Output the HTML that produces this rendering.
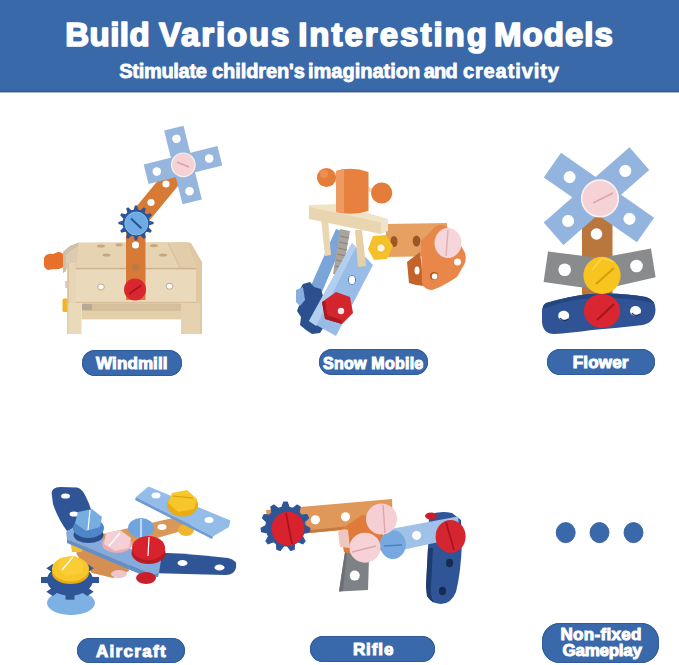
<!DOCTYPE html>
<html><head><meta charset="utf-8">
<style>
*{margin:0;padding:0;box-sizing:border-box}
html,body{width:679px;height:665px;overflow:hidden;background:#fff}
body{position:relative;font-family:"Liberation Sans",sans-serif}
#banner{position:absolute;left:0;top:0;width:679px;height:92px;background:linear-gradient(#3a69a9 0,#3a69a9 90px,#33609c 91px,#31598f 92px);box-shadow:0 1px 0 rgba(60,90,130,0.45)}
.t{position:absolute;color:#fff;font-weight:bold;white-space:nowrap}
.tt{top:15px;font-size:33px;line-height:40px;letter-spacing:0.2px;-webkit-text-stroke:1.7px #fff}
.st{top:60px;font-size:20px;line-height:22px;-webkit-text-stroke:0.8px #fff}
.pill{position:absolute;background:#3a69ab;box-shadow:inset 0 0 0 1px #2f5c98;color:#fff;font-weight:bold;border-radius:14px;text-align:center;white-space:nowrap;-webkit-text-stroke:1px #fff}
#toys{position:absolute;left:0;top:0}
</style></head><body>
<div id="banner"></div>
<svg style="position:absolute;left:0;top:0" width="679" height="92" viewBox="0 0 679 92">
<g font-family="Liberation Sans" font-weight="bold" fill="#fff" stroke="#fff" stroke-linejoin="round">
<text x="65.3" y="46.43" font-size="33" letter-spacing="0.45" stroke-width="1.7">Build</text>
<text x="159" y="46.43" font-size="33" letter-spacing="1.87" stroke-width="1.7">Various</text>
<text x="298.2" y="46.43" font-size="33" letter-spacing="2" stroke-width="1.7">Interesting</text>
<text x="494.1" y="46.43" font-size="33" letter-spacing="1" stroke-width="1.7">Models</text>
<text x="119.3" y="77.93" font-size="20" letter-spacing="-0.3" stroke-width="0.8">Stimulate</text>
<text x="212.1" y="77.93" font-size="20" letter-spacing="-0.1" stroke-width="0.8">children&#39;s</text>
<text x="308" y="77.93" font-size="20" letter-spacing="0" stroke-width="0.8">imagination</text>
<text x="423.8" y="77.93" font-size="20" letter-spacing="-0.8" stroke-width="0.8">and</text>
<text x="462.9" y="77.93" font-size="20" letter-spacing="0.9" stroke-width="0.8">creativity</text>
</g></svg>

<div class="pill" style="left:81.6px;top:350.2px;width:100px;height:25.4px;font-size:17px;line-height:28.6px;letter-spacing:0.1px;padding-left:0.5px">Windmill</div>
<div class="pill" style="left:319px;top:349px;width:108.5px;height:25.6px;font-size:16px;line-height:29.2px;letter-spacing:0.25px;padding-left:0px"><span style="margin:0 -10px">Snow Mobile</span></div>
<div class="pill" style="left:546.9px;top:349px;width:108.6px;height:25.6px;font-size:17px;line-height:28.6px;letter-spacing:0.2px;padding-right:1px">Flower</div>
<div class="pill" style="left:77.1px;top:637.7px;width:108.2px;height:25.6px;font-size:17px;line-height:28.4px;letter-spacing:1.3px;padding-left:0.5px">Aircraft</div>
<div class="pill" style="left:310.2px;top:636px;width:125.3px;height:26px;font-size:17px;line-height:28.6px;letter-spacing:0.9px;padding-left:1.5px">Rifle</div>
<div class="pill" style="left:542.1px;top:622.5px;width:117px;height:40.2px;font-size:17px;line-height:16.5px;padding-top:4px;border-radius:18px;letter-spacing:0.3px;padding-left:1px">Non-fixed<br><span style="letter-spacing:-0.25px;position:relative;left:1px">Gameplay</span></div>

<svg id="toys" width="679" height="665" viewBox="0 0 679 665">

<!-- WINDMILL -->
<g id="windmill">
 <!-- left connectors -->
 <path d="M44,258 Q46,253 53,254 L58,252 Q63,252 64,256 L64,266 Q60,270 54,269 L48,270 Q43,268 44,262 Z" fill="#e8702c"/>
 <rect x="62.5" y="298.6" width="6" height="13.3" rx="1.5" fill="#f0b52a"/>
 <rect x="65" y="281" width="3" height="7" fill="#e9c8c8"/>
 <!-- wood box -->
 <polygon points="79,242.4 186,242 196,268.5 74,268.5" fill="#e6d3b2"/>
 <polygon points="168,243 186,242 196,268.5 180,268.5" fill="#e2cdaa"/>
 <line x1="168" y1="243" x2="180" y2="268" stroke="#d2b993" stroke-width="0.8"/>
 <polygon points="186,242 191,243 202,262 202,334 196,334 196,268" fill="#dfc8a2"/>
 <rect x="74" y="268.5" width="122" height="34.5" fill="#ebd9bb"/>
 <rect x="74" y="267.8" width="122" height="1.6" fill="#cdb48f"/>
 <rect x="74" y="301.8" width="122" height="1.4" fill="#d6bf9a"/>
 <!-- left end cap -->
 <polygon points="63,252 70,246 79,242.4 76,268.5 67.4,268.5 63,273" fill="#dccbb0"/>
 <polygon points="63,252 70,246 79,242.4 78,246 71,250 66,255 66,271 63,273" fill="#cfbfa4"/>
 <rect x="67.4" y="263" width="8.3" height="71" fill="#e8d5b5"/>
 <rect x="67.4" y="263" width="1.5" height="71" fill="#d6c09c"/>
 <rect x="81.5" y="303.2" width="100" height="8" fill="#d6bf9b"/>
 <rect x="82" y="304" width="10" height="6" fill="#b7ab98"/>
 <rect x="81.5" y="311" width="100" height="8.4" fill="#e4cfab"/>
 <rect x="68.3" y="303" width="13.2" height="31" fill="#eadab9"/>
 <rect x="181" y="303" width="19" height="31" fill="#e6d2ae"/>
 <g fill="#c7a77d">
  <ellipse cx="101" cy="246" rx="4" ry="1.6"/><ellipse cx="154" cy="245.6" rx="4" ry="1.6"/>
  <ellipse cx="106.5" cy="255" rx="4" ry="1.6"/><ellipse cx="163" cy="255" rx="4" ry="1.6"/>
  <ellipse cx="119" cy="245" rx="3.5" ry="1.4"/>
 </g>
 <g fill="#fff" stroke="#a98a62" stroke-width="0.7">
  <ellipse cx="101" cy="287" rx="3.3" ry="3"/><ellipse cx="169.5" cy="286.2" rx="3.3" ry="3"/>
 </g>
 <!-- orange arm -->
 <line x1="135.5" y1="222.5" x2="183" y2="165" stroke="#d67a35" stroke-width="19"/>
 <rect x="126" y="222" width="19.5" height="78" fill="#d67a35"/>
 <g fill="#fff"><circle cx="135.5" cy="245" r="3.6"/><circle cx="151" cy="202.5" r="3.6"/><circle cx="166" cy="184" r="3.6"/></g>
 <circle cx="135.5" cy="267.5" r="3.3" fill="#b77a48"/>
 <!-- red bolt -->
 <circle cx="135" cy="289.5" r="11" fill="#d9262f"/>
 <line x1="129" y1="294" x2="141" y2="285.5" stroke="#a0161e" stroke-width="1.6"/>
 <!-- gear -->
 <polygon points="133.7,209.7 134.9,205.4 137.1,205.4 138.3,209.7 140.6,210.3 143.8,207.2 145.8,208.4 144.7,212.6 146.4,214.3 150.6,213.2 151.8,215.2 148.7,218.4 149.3,220.7 153.6,221.9 153.6,224.1 149.3,225.3 148.7,227.6 151.8,230.8 150.6,232.8 146.4,231.7 144.7,233.4 145.8,237.6 143.8,238.8 140.6,235.7 138.3,236.3 137.1,240.6 134.9,240.6 133.7,236.3 131.4,235.7 128.2,238.8 126.2,237.6 127.3,233.4 125.6,231.7 121.4,232.8 120.2,230.8 123.3,227.6 122.7,225.3 118.4,224.1 118.4,221.9 122.7,220.7 123.3,218.4 120.2,215.2 121.4,213.2 125.6,214.3 127.3,212.6 126.2,208.4 128.2,207.2 131.4,210.3" fill="#2b5596"/>
 <circle cx="136.3" cy="223.5" r="11.5" fill="#6eaae4" stroke="#8cc0ee" stroke-width="0.8"/>
 <line x1="131" y1="218.5" x2="141.5" y2="228.5" stroke="#24508b" stroke-width="1.8"/>
 <!-- blue cross -->
 <g transform="translate(183,165) rotate(-14)" fill="#96b6dd">
  <rect x="-10" y="-38" width="20" height="76"/>
  <rect x="-38" y="-10" width="76" height="20"/>
  <g fill="#fff"><circle cx="0" cy="-27" r="4.3"/><circle cx="0" cy="27" r="4.3"/><circle cx="-27" cy="0" r="4.3"/><circle cx="27" cy="0" r="4.3"/></g>
 </g>
 <circle cx="183.3" cy="164.8" r="11.8" fill="#f5d2d5" stroke="#fcefef" stroke-width="1.2"/>
 <line x1="177" y1="162" x2="189" y2="167" stroke="#d9a3a8" stroke-width="1.5"/>
</g>

<!-- SNOW MOBILE -->
<g id="snow">
 <!-- back light-blue bar -->
 <polygon points="336,229 347,233 322,292 309,290" fill="#7ba4d9"/>
 <!-- dark gear behind (edge-on) -->
 <path d="M303,284 L310,282 L314,287 L321,289 L323,296 L320,303 L324,310 L322,318 L325,325 L320,333 L312,334 L306,330 L300,325 L301,317 L297,311 L300,303 L297,296 L300,289 Z" fill="#2c4f8e"/>
 <path d="M296,290 L303,287 L305,300 L300,306 L296,302 Z" fill="#86afe0"/>
 <!-- orange horizontal bar -->
 <polygon points="386,224 447,223 447,256 386,257" fill="#e6a162"/>
 <ellipse cx="394" cy="241.5" rx="3.5" ry="5.5" fill="#9c5524"/>
 <ellipse cx="416.5" cy="241" rx="3.8" ry="5.5" fill="#9c5524"/>
 <!-- orange bracket back layer -->
 <polygon points="407,262 420,252 424,286 416,285 409,283" fill="#c4642b"/>
 <ellipse cx="417" cy="270.5" rx="2.5" ry="4" fill="#fff"/>
 <!-- orange bracket front -->
 <path d="M421,241 L436,226 Q444,222 452,232 L463,249 Q468,257 464,265 L457,277 Q440,288 432,290 Q424,290 422,283 Z" fill="#e9874a"/>
 <circle cx="434" cy="276" r="4" fill="#b45a26"/>
 <circle cx="434.6" cy="276.4" r="2.8" fill="#fff"/>
 <circle cx="457.5" cy="262" r="3.4" fill="#fff"/>
 <!-- pink bolt -->
 <ellipse cx="448" cy="243" rx="13.5" ry="15" fill="#f6d6db"/>
 <line x1="448" y1="230" x2="446" y2="256" stroke="#dfb0b6" stroke-width="1.5"/>
 <!-- threaded rod -->
 <polygon points="340,229 350,231 342,276 333,274" fill="#aaa49c"/>
 <g stroke="#8a847b" stroke-width="1.1"><line x1="340" y1="236" x2="349" y2="238"/><line x1="339" y1="242" x2="348" y2="244"/><line x1="338" y1="248" x2="347" y2="250"/><line x1="337" y1="254" x2="346" y2="256"/><line x1="336" y1="260" x2="345" y2="262"/><line x1="335" y1="266" x2="344" y2="268"/></g>
 <!-- front light blue bar -->
 <polygon points="352,243 373,265 336,336 309,321" fill="#98bce6"/>
 <polygon points="352,243 356,247 316,326 309,321" fill="#b2cff0"/>
 <ellipse cx="352" cy="280" rx="3.6" ry="4.5" fill="#fff" stroke="#5f88bd" stroke-width="1"/>
 <!-- red nut -->
 <g transform="translate(0,-2)"><polygon points="336,294 350,299 353,315 342,326 325,321 322,304" fill="#d3252e"/>
 <polygon points="322,304 325,321 342,326 341,322 327,317 325,303" fill="#a81a22"/>
 <circle cx="341" cy="313" r="3.2" fill="#fbe9e9"/></g>
 <!-- wood legs -->
 <polygon points="321,219 328,219 331,255 325,256" fill="#e9d6b2"/>
 <polygon points="355,230 362,230 366,266 358,267" fill="#e6d0a8"/>
 <!-- wood crossbar -->
 <polygon points="309,205 338,204 388,219 381,222 309,208" fill="#f1e3c6"/>
 <polygon points="309,207 381,222 381,234 309,219" fill="#e9d6b1"/>
 <polygon points="381,222 388,219 388,231 381,234" fill="#eee3cf"/>
 <!-- yellow nut -->
 <polygon points="373,236 386,235 393,246 387,259 374,260 368,249" fill="#f5c12a"/>
 <circle cx="381" cy="248" r="4.2" fill="#fdf3d6" stroke="#e0a820" stroke-width="0.8"/>
 <!-- handle cylinder and balls -->
 <line x1="330" y1="178" x2="340" y2="182" stroke="#efdcbc" stroke-width="4"/>
 <line x1="365" y1="188" x2="376" y2="192" stroke="#efdcbc" stroke-width="4"/>
 <path d="M336,171 Q352,166 368.5,172 L368.5,211 Q352,216 336,212 Z" fill="#e8803f"/>
 <path d="M336,171 Q342,169 344,169 L344,213 L336,212 Z" fill="#ee9a62"/>
 <circle cx="326.5" cy="177.5" r="9.6" fill="#e57d3a"/>
 <circle cx="381.7" cy="193" r="10.6" fill="#e57d3a"/>
 <circle cx="324" cy="174" r="4" fill="#ef9d68" opacity="0.6"/>
</g>

<!-- FLOWER -->
<g id="flower">
 <!-- brown stem -->
 <rect x="582" y="215" width="30.5" height="80" fill="#b9763d"/>
 <circle cx="596.5" cy="234" r="5.8" fill="#fff"/>
 <!-- dark blue arch -->
 <path d="M546,303 Q570,296 590,294 Q620,292 646,297 Q656,300 655.5,310 Q655,322 643,325 Q618,328 592,330 Q570,333 554,334 Q543,334 542,322 L542,312 Q542,305 546,303 Z" fill="#2f5394"/>
 <path d="M546,303 Q570,296 590,294 Q620,292 646,297 Q652,299 654,303 Q625,297 592,298 Q565,300 543,309 Q543,305 546,303 Z" fill="#234681"/>
 <ellipse cx="563.7" cy="315.7" rx="5.5" ry="5" fill="#fff"/>
 <ellipse cx="635.5" cy="311" rx="5.5" ry="5" fill="#fff"/>
 <path d="M560,318 a5,5 0 0 0 8,1" fill="none" stroke="#1c3563" stroke-width="1.5"/>
 <path d="M632,313 a5,5 0 0 0 8,1" fill="none" stroke="#1c3563" stroke-width="1.5"/>
 <!-- gray bent bar -->
 <polygon points="548,251.5 600,258 651,248.6 655.6,277.3 600,290 543.6,282" fill="#8a8b8d"/>
 <circle cx="564.7" cy="269.7" r="6.3" fill="#fff"/>
 <circle cx="636.5" cy="266" r="6.3" fill="#fff"/>
 <!-- light blue X -->
 <g transform="translate(596.7,196)" fill="#92b4df">
  <rect x="-54" y="-15" width="113.5" height="30" transform="rotate(34.9)"/>
  <rect x="-57.3" y="-15" width="114" height="30" transform="rotate(-41.2)"/>
  <g fill="#fff">
   <circle cx="-33" cy="0" r="6" transform="rotate(34.9)"/>
   <circle cx="40" cy="0" r="6" transform="rotate(34.9)"/>
   <circle cx="-38" cy="0" r="6" transform="rotate(-41.2)"/>
   <circle cx="38" cy="0" r="6" transform="rotate(-41.2)"/>
  </g>
 </g>
 <!-- pink bolt -->
 <circle cx="600" cy="198.4" r="18.3" fill="#f4d2d6" stroke="#fcefef" stroke-width="1.6"/>
 <line x1="593" y1="203" x2="613" y2="193" stroke="#dba7ad" stroke-width="1.8"/>
 <!-- yellow bolt -->
 <circle cx="602" cy="275.4" r="18.6" fill="#f7c420"/>
 <path d="M592,270 L602,258 L614,262" fill="none" stroke="#f9d75a" stroke-width="1.2"/>
 <line x1="596" y1="284" x2="614" y2="268" stroke="#d69d0c" stroke-width="2"/>
 <!-- red bolt -->
 <ellipse cx="602" cy="311" rx="18.2" ry="17" fill="#d92630"/>
 <line x1="597" y1="320" x2="614" y2="304" stroke="#a1161f" stroke-width="2"/>
</g>

<!-- AIRCRAFT -->
<g id="aircraft">
 <!-- orange fuselage -->
 <polygon points="72,541 186,515 192,528 80,560" fill="#d9975a"/>
 <polygon points="76,553 112,544 126,556 129,571 113,578 92,573 82,562" fill="#d48f52"/>
 <ellipse cx="119" cy="574" rx="8" ry="4" fill="#f0c4cb"/>
 <ellipse cx="162" cy="527" rx="4.5" ry="3" fill="#fff"/>
 <ellipse cx="186" cy="530" rx="8" ry="6" fill="#efb52d"/>
 <polygon points="70,540 84,538 82,552 72,552" fill="#f0c030"/>
 <!-- top right light blue bar -->
 <polygon points="136,497 148.5,486.5 230.5,520.5 229,527 213,536.5" fill="#94bce8"/>
 <polygon points="136,497 213,536.5 212,539 135,500" fill="#6f9bd2"/>
 <ellipse cx="156" cy="495.5" rx="4.5" ry="3" fill="#fff"/>
 <ellipse cx="209" cy="520" rx="4.5" ry="3" fill="#fff"/>
 <!-- yellow bolt top right -->
 <ellipse cx="182.5" cy="505" rx="15.5" ry="11.5" fill="#e8ad14"/>
 <polygon points="172,493 187,490 197,499 194,509 178,512 168,503" fill="#f7c62a"/>
 <line x1="173" y1="496" x2="193" y2="498" stroke="#d89e10" stroke-width="1.2"/>
 <!-- dark blue curved left wing -->
 <path d="M51.6,493 Q52,487.3 60,487 L77,487.6 Q82.5,489 86,497 Q90.5,506 93,516 L94,524 L67,531 Q58,519 53,504 Z" fill="#2f5597"/>
 <ellipse cx="65.5" cy="496" rx="4.5" ry="2.6" fill="#fff"/>
 <ellipse cx="74" cy="514" rx="4.5" ry="2.6" fill="#fff"/>
 <!-- dark blue right wing -->
 <path d="M128,552 Q180,552 228,558 Q238,560 236,568 Q234,575 226,575 Q185,574 150,573 L130,570 Z" fill="#2f5597"/>
 <ellipse cx="182.5" cy="563" rx="5" ry="3" fill="#fff"/>
 <ellipse cx="219.5" cy="567.5" rx="5" ry="3" fill="#fff"/>
 <!-- light blue middle bar -->
 <polygon points="66,532 73,527.5 161,560 159,573 150,574 67,539" fill="#84abdc"/>
 <polygon points="67,539 150,574 159,573 158,577 149,578 67,543" fill="#6390c8"/>
 <!-- red bottom nut -->
 <ellipse cx="146" cy="578" rx="10" ry="6" fill="#c81f2a"/>
 <!-- light blue bolt behind red -->
 <ellipse cx="141" cy="528" rx="13" ry="10" fill="#6fa4de"/>
 <line x1="141" y1="519" x2="141" y2="537" stroke="#fff" stroke-width="1.2"/>
 <!-- left light blue bolt -->
 <ellipse cx="88.5" cy="535" rx="15" ry="8" fill="#2b4f8c"/>
 <ellipse cx="88.5" cy="528" rx="15.5" ry="10" fill="#4e86c8"/>
 <polygon points="78,512 92,509 102,517 100,527 86,531 75,523" fill="#77addf"/>
 <line x1="90" y1="510" x2="88" y2="530" stroke="#fff" stroke-width="1.2"/>
 <!-- pink bolt -->
 <ellipse cx="117" cy="544" rx="15" ry="9" fill="#e7aeb7"/>
 <polygon points="106,533 120,530 131,538 129,548 115,551 104,544" fill="#f4cfd5"/>
 <line x1="109" y1="546" x2="120" y2="533" stroke="#fff" stroke-width="1.2"/>
 <!-- red bolt -->
 <ellipse cx="148.5" cy="553" rx="17" ry="11" fill="#b81b26"/>
 <ellipse cx="148.5" cy="548" rx="16.5" ry="12" fill="#d8222e"/>
 <line x1="149" y1="537" x2="148" y2="556" stroke="#fff" stroke-width="1.2"/>
 <!-- gear bottom-left -->
 <ellipse cx="71" cy="603" rx="24" ry="12" fill="#7db0e3"/>
 <g transform="translate(70,580) scale(1,0.68)">
  <circle r="23" fill="#2e5597"/>
  <g fill="#2e5597"><rect x="-4.5" y="-29" width="9" height="8"/><rect x="-4.5" y="-29" width="9" height="8" transform="rotate(45)"/><rect x="-4.5" y="-29" width="9" height="8" transform="rotate(90)"/><rect x="-4.5" y="-29" width="9" height="8" transform="rotate(135)"/><rect x="-4.5" y="-29" width="9" height="8" transform="rotate(180)"/><rect x="-4.5" y="-29" width="9" height="8" transform="rotate(225)"/><rect x="-4.5" y="-29" width="9" height="8" transform="rotate(270)"/><rect x="-4.5" y="-29" width="9" height="8" transform="rotate(315)"/></g>
 </g>
 <!-- yellow bolt on gear -->
 <ellipse cx="70.5" cy="573" rx="18.5" ry="11" fill="#e7aa12"/>
 <ellipse cx="70.5" cy="569" rx="18.5" ry="12.5" fill="#f7c72a"/>
 <polygon points="60,558 75,556 84,563 82,573 66,576 58,568" fill="#f8cd36"/>
 <line x1="62" y1="570" x2="73" y2="557" stroke="#fff" stroke-width="1.2"/>
</g>

<!-- RIFLE -->
<g id="rifle">
 <!-- dark blue curved bar right -->
 <path d="M429,515 Q440,510 452,513 L461,520 L462,542 Q461,572 456,592 Q451,604 441,604 Q431,603 427,596 L426,586 L428,548 Z" fill="#2f5597"/>
 <path d="M428,548 L426,586 L427,596 Q430,601 434,603 Q430,596 431,586 L433,548 Z" fill="#1f3c70"/>
 <ellipse cx="449.6" cy="563" rx="3.6" ry="4.2" fill="#152b55"/>
 <ellipse cx="442.5" cy="591" rx="3.6" ry="4.2" fill="#152b55"/>
 <!-- gray bar -->
 <polygon points="346,534 369,534 369,558 368,590 339,591.5 345,552" fill="#7e8185"/>
 <polygon points="346,534 349,534 343,591 339,591.5 345,552" fill="#6c6f73"/>
 <circle cx="354.7" cy="575.6" r="5" fill="#fff"/>
 <!-- orange top bar -->
 <polygon points="266,510 392,499 393,525 268,537" fill="#e0975a"/>
 <polygon points="268,534 393,522 393,525 268,537" fill="#c77a40"/>
 <circle cx="315.3" cy="519.8" r="4.6" fill="#fff"/>
 <circle cx="345.5" cy="516.8" r="4.6" fill="#fff"/>
 <!-- orange middle bracket -->
 <polygon points="340,530 362,515 382,518 384,548 368,558 344,552" fill="#e07b3c"/>
 <path d="M338,532 Q342,528 348,530 L350,548 L340,547 Z" fill="#f0c6c0"/>
 <!-- gear left -->
 <polygon points="281.8,507.4 283.7,502.1 287.3,502.1 289.2,507.4 292.7,508.4 297.2,505.0 300.2,506.9 299.0,512.4 301.4,515.2 307.0,514.7 308.5,518.0 304.5,521.9 305.0,525.5 309.9,528.2 309.4,531.7 303.9,532.9 302.4,536.2 305.1,541.2 302.8,543.8 297.5,541.8 294.5,543.8 294.1,549.5 290.7,550.4 287.3,545.9 283.7,545.9 280.3,550.4 276.9,549.5 276.5,543.8 273.5,541.8 268.2,543.8 265.9,541.2 268.6,536.2 267.1,532.9 261.6,531.7 261.1,528.2 266.0,525.5 266.5,521.9 262.5,518.0 264.0,514.7 269.6,515.2 272.0,512.4 270.8,506.9 273.8,505.0 278.3,508.4" fill="#2f5597" stroke="#2f5597" stroke-width="1.2" stroke-linejoin="round"/>
 <!-- red bolt on gear -->
 <ellipse cx="288" cy="528.8" rx="16.5" ry="17" fill="#d8222e"/>
 <line x1="286" y1="513" x2="292" y2="544" stroke="#a8141e" stroke-width="1.6"/>
 <!-- light blue right bar -->
 <polygon points="385,530 458,516.5 460,537.5 388,553" fill="#a0c2e9"/>
 <circle cx="416.6" cy="535.4" r="4.5" fill="#fff"/>
 <!-- blue bolt -->
 <ellipse cx="392.9" cy="544.6" rx="13" ry="14.4" fill="#76a9e0"/>
 <line x1="384" y1="546" x2="402" y2="545" stroke="#4a80c0" stroke-width="1.5"/>
 <!-- pink bolts -->
 <ellipse cx="381.5" cy="519" rx="15.5" ry="15.5" fill="#f5cfd4"/>
 <line x1="383" y1="505" x2="385" y2="533" stroke="#dda6ad" stroke-width="1.4"/>
 <ellipse cx="365" cy="547.7" rx="15.5" ry="15" fill="#f6d2d7"/>
 <line x1="352" y1="552" x2="376" y2="546" stroke="#dda6ad" stroke-width="1.4"/>
 <!-- red bolt right -->
 <ellipse cx="431" cy="516" rx="6" ry="3.5" fill="#c8202b"/>
 <ellipse cx="450.6" cy="536.4" rx="15" ry="16.5" fill="#d42530"/>
 <line x1="446" y1="522" x2="454" y2="550" stroke="#a3141e" stroke-width="1.6"/>
</g>

<g fill="#3a69ab" stroke="#2f5b97" stroke-width="0.8">
<ellipse cx="565.7" cy="532.6" rx="9.5" ry="10.1"/>
<ellipse cx="599.5" cy="532.6" rx="9.5" ry="10.1"/>
<ellipse cx="633.5" cy="532.6" rx="9.5" ry="10.1"/>
</g>
</svg>
</body></html>
